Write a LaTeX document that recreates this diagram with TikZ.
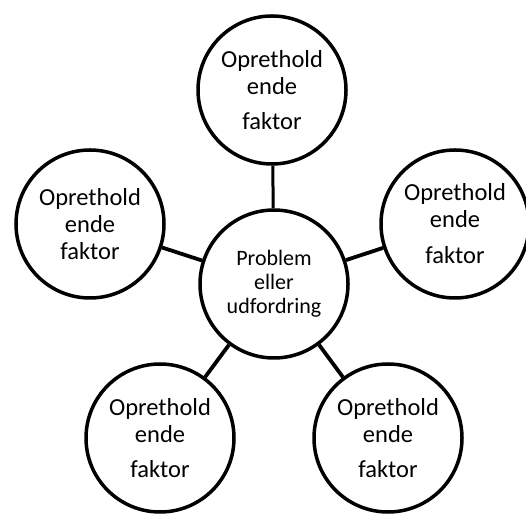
\documentclass[tikz,border=0pt]{standalone}
\usepackage{fontspec}
\setmainfont{Carlito}
\usetikzlibrary{positioning}

\begin{document}
\begin{tikzpicture}[
  x=1pt, y=1pt,
  factor/.style={circle, draw=black, line width=3.5pt, fill=white,
    minimum size=148pt, inner sep=0pt, align=center,
    font=\fontsize{24.5}{27}\selectfont},
  problem/.style={factor, font=\fontsize{22}{24}\selectfont},
  link/.style={line width=3.8pt, black},
]
\useasboundingbox (0,0) rectangle (526,513);

% Problem in the middle
\node[problem] (prob) at (274,229) {Problem\\eller\\udfordring};

% Maintaining factors
\node[factor] (ftop)   at (272,423) {Oprethold\\ende\\[8pt]faktor};
\node[factor] (fleft)  at (90,289)  {Oprethold\\ende\\faktor};
\node[factor] (fright) at (455,289) {Oprethold\\ende\\[9pt]faktor};
\node[factor] (fbl)    at (160,75)  {Oprethold\\ende\\[8pt]faktor};
\node[factor] (fbr)    at (388,75)  {Oprethold\\ende\\[8pt]faktor};

% Links
\draw[link, line width=3pt] (prob) -- (ftop);
\draw[link] (prob) -- (fleft);
\draw[link] (prob) -- (fright);
\draw[link] (prob) -- (fbl);
\draw[link] (prob) -- (fbr);
\end{tikzpicture}
\end{document}
